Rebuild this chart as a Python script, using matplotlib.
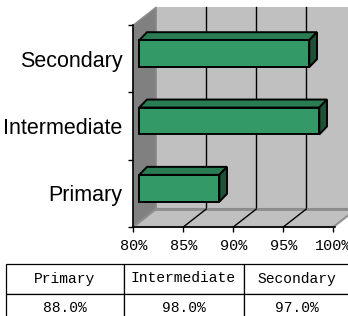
import matplotlib
matplotlib.use("Agg")
import matplotlib.pyplot as plt
from matplotlib.patches import Polygon, Rectangle

categories = ["Primary", "Intermediate", "Secondary"]
values = [88.0, 98.0, 97.0]
xticks = [80, 85, 90, 95, 100]
xmin, xmax = 80, 100

plt.rcParams['font.family'] = ['Liberation Sans', 'DejaVu Sans']

W, H = 348, 316
fig = plt.figure(figsize=(W / 100, H / 100), dpi=100)

# front plane of the 3D box in pixels
L, R, T, B = 133.3, 333.3, 25.0, 227.0
ax = fig.add_axes([L / W, (H - B) / H, (R - L) / W, (B - T) / H])
ax.set_xlim(xmin, xmax)
ax.set_ylim(-0.5, len(categories) - 0.5)

# pixel -> data unit conversion
sx = (xmax - xmin) / (R - L)
sy = len(categories) / (B - T)

def off(px, py):
    return px * sx, py * sy

Dx, Dy = off(23.0, 18.0)        # wall depth
fx, fy = off(6.0, 5.0)          # bar front face offset
bx, by = off(13.7, 13.0)        # bar back face offset

y0, y1 = -0.5, len(categories) - 0.5

# back wall
ax.add_patch(Rectangle((xmin + Dx, y0 + Dy), (xmax - xmin) + 5, y1 - y0,
                       facecolor="#c0c0c0", edgecolor="none", clip_on=False, zorder=1))
# left wall
ax.add_patch(Polygon([(xmin, y0), (xmin, y1), (xmin + Dx, y1 + Dy), (xmin + Dx, y0 + Dy)],
                     closed=True, facecolor="#808080", edgecolor="#909090", lw=1,
                     clip_on=False, zorder=1))
# gridlines on back wall
for t in xticks[1:-1]:
    ax.plot([t + Dx, t + Dx], [y0 + Dy, y1 + Dy], color="black", lw=1,
            clip_on=False, zorder=2)
# floor
ax.add_patch(Polygon([(xmin, y0), (xmax, y0), (xmax + Dx, y0 + Dy), (xmin + Dx, y0 + Dy)],
                     closed=True, facecolor="#c0c0c0", edgecolor="#909090", lw=1.5,
                     clip_on=False, zorder=2))
ax.plot([xmin + Dx, xmax + Dx], [y0 + Dy, y0 + Dy], color="#8c8c8c", lw=2,
        clip_on=False, zorder=2)
for t in xticks[1:-1]:
    ax.plot([t, t + Dx], [y0, y0 + Dy], color="black", lw=1, clip_on=False, zorder=2)
ax.plot([xmin, xmax + 0.2], [y0, y0], color="black", lw=1.2, clip_on=False, zorder=3)

# bars
h = 0.40
front_c, top_c, side_c = "#339966", "#2a7d52", "#1d5236"
for i, v in enumerate(values):
    ax.add_patch(Polygon([(xmin + fx, i + h / 2 + fy), (v + fx, i + h / 2 + fy),
                          (v + bx, i + h / 2 + by), (xmin + bx, i + h / 2 + by)],
                         closed=True, facecolor=top_c, edgecolor="black", lw=1.4,
                         joinstyle="miter", clip_on=False, zorder=4))
    ax.add_patch(Polygon([(v + fx, i - h / 2 + fy), (v + bx, i - h / 2 + by),
                          (v + bx, i + h / 2 + by), (v + fx, i + h / 2 + fy)],
                         closed=True, facecolor=side_c, edgecolor="black", lw=1.4,
                         joinstyle="miter", clip_on=False, zorder=4))
ax.barh([i + fy for i in range(len(values))], [v - xmin for v in values],
        left=xmin + fx, height=h, color=front_c, edgecolor="black", lw=1.4,
        zorder=5, clip_on=False)

# axes styling
for s in ["top", "right", "bottom"]:
    ax.spines[s].set_visible(False)
ax.spines["left"].set_color("black")
ax.spines["left"].set_linewidth(1.2)
ax.spines["left"].set_zorder(3)
ax.set_facecolor("none")

ax.set_xticks(xticks)
ax.set_xticklabels([f"{t}%" for t in xticks], family="Liberation Mono", fontsize=11)
ax.tick_params(axis="x", direction="out", length=3.8, width=1, pad=5, colors="black")

ax.set_yticks([y0 + k for k in range(len(categories) + 1)])
ax.set_yticklabels([])
ax.set_yticks(range(len(categories)), minor=True)
ax.set_yticklabels(categories, minor=True, fontsize=15.5)
ax.tick_params(axis="y", which="major", direction="out", length=3.8, width=1)
ax.tick_params(axis="y", which="minor", length=0, pad=8)

# data table (extends past the right and bottom edges, as in the reference)
TL, TR, TT, TB = 5.5, 350.5, 263.5, 323.5
tax = fig.add_axes([TL / W, (H - TB) / H, (TR - TL) / W, (TB - TT) / H])
tax.axis("off")
tw = TR - TL
tbl = tax.table(cellText=[categories, [f"{v:.1f}%" for v in values]],
                cellLoc="center", bbox=[0, 0, 1, 1],
                colWidths=[118 / tw, 120 / tw, 107 / tw])
tbl.auto_set_font_size(False)
for (r, c), cell in tbl.get_celld().items():
    cell.set_edgecolor("black")
    cell.set_linewidth(0.9)
    cell.set_clip_on(False)
    cell.get_text().set_fontfamily("Liberation Mono")
    cell.get_text().set_fontsize(10.5)

fig.savefig("out.png", dpi=100)
